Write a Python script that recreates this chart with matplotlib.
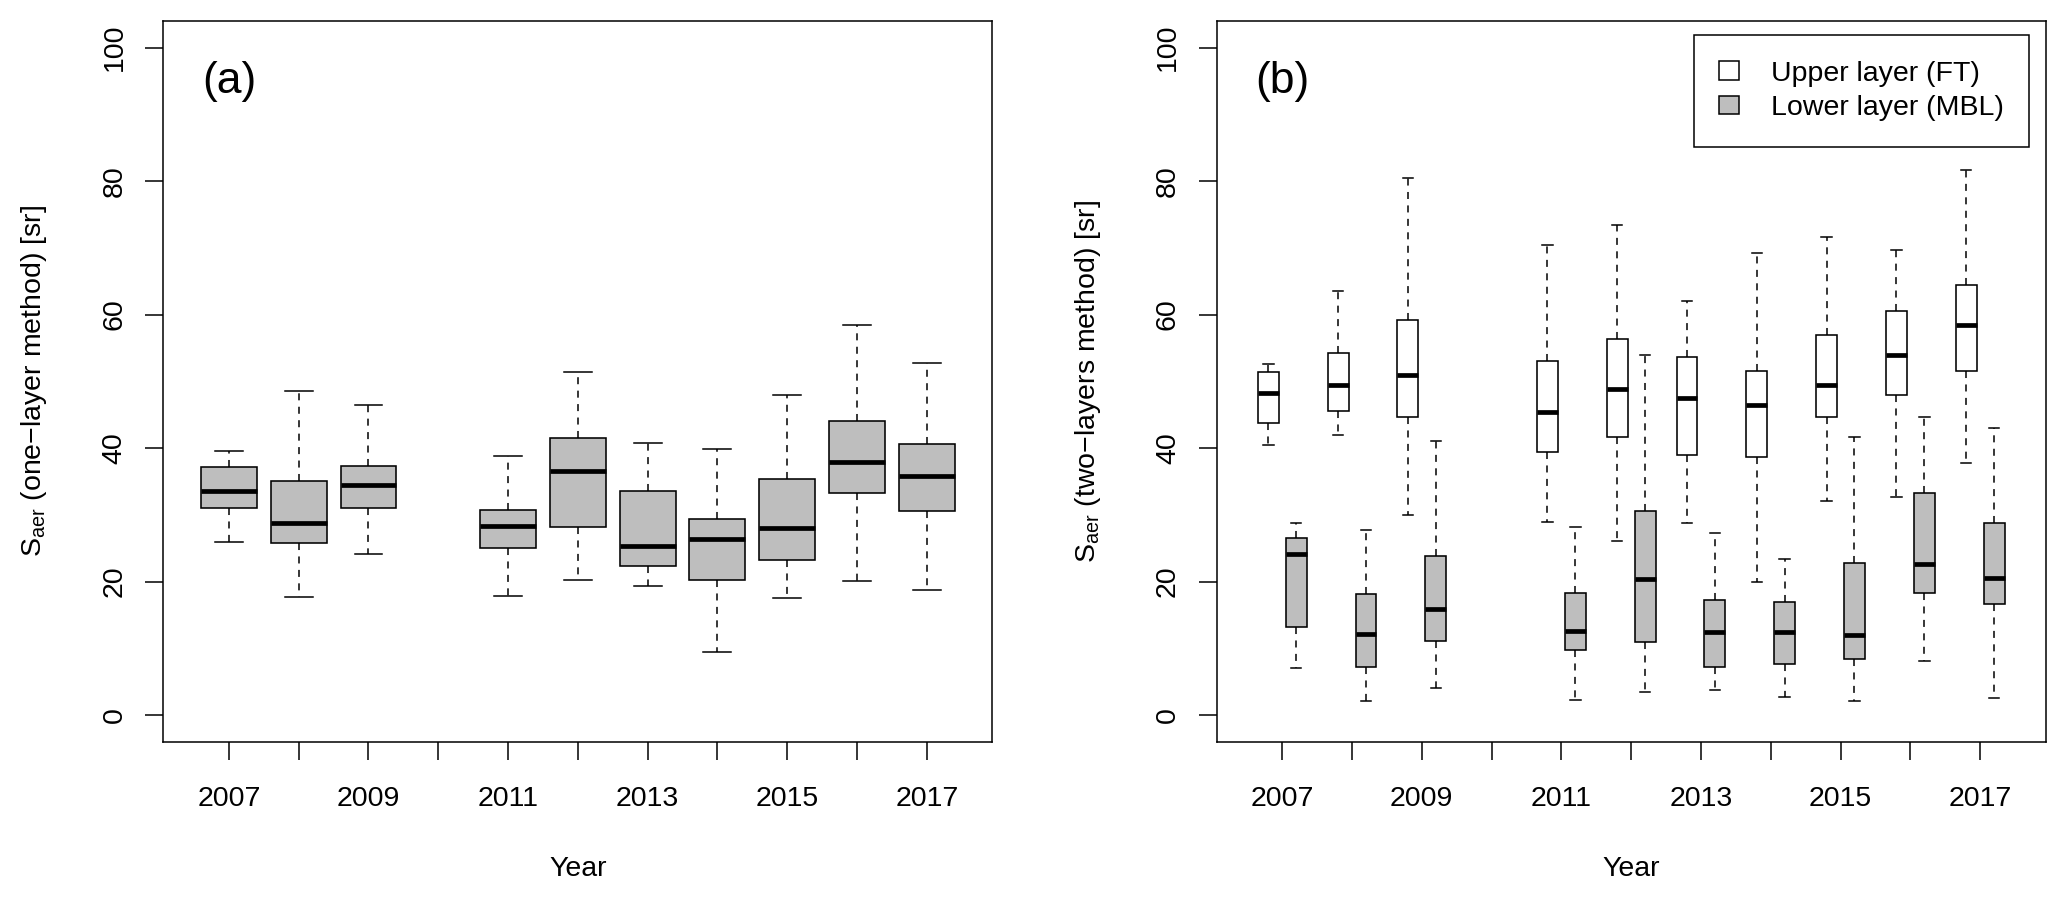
import matplotlib
matplotlib.use('Agg')
import matplotlib.pyplot as plt
from matplotlib.patches import Patch

plt.rcParams['font.family'] = ['Liberation Sans', 'DejaVu Sans']
plt.rcParams['mathtext.fontset'] = 'custom'
plt.rcParams['mathtext.rm'] = 'Liberation Sans'
plt.rcParams['mathtext.it'] = 'Liberation Sans:italic'

all_years = list(range(2007, 2018))
years = [2007, 2008, 2009, 2011, 2012, 2013, 2014, 2015, 2016, 2017]

# (a) one-layer method
one_lo = [25.9, 17.7, 24.1, 17.8, 20.2, 19.4, 9.4, 17.6, 20.1, 18.7]
one_q1 = [31.0, 25.7, 31.0, 25.0, 28.1, 22.3, 20.3, 23.2, 33.2, 30.5]
one_med = [33.5, 28.7, 34.5, 28.3, 36.5, 25.3, 26.4, 28.0, 37.9, 35.8]
one_q3 = [37.1, 35.0, 37.3, 30.7, 41.5, 33.5, 29.3, 35.3, 44.0, 40.6]
one_hi = [39.5, 48.5, 46.4, 38.8, 51.4, 40.8, 39.9, 47.9, 58.4, 52.8]

# (b) two-layers method, upper layer (FT)
ft_lo = [40.4, 42.0, 29.9, 28.9, 26.1, 28.7, 20.0, 32.0, 32.6, 37.8]
ft_q1 = [43.7, 45.6, 44.6, 39.4, 41.7, 39.0, 38.7, 44.6, 48.0, 51.5]
ft_med = [48.3, 49.5, 50.9, 45.4, 48.9, 47.5, 46.5, 49.4, 54.0, 58.5]
ft_q3 = [51.4, 54.3, 59.2, 53.0, 56.4, 53.6, 51.5, 57.0, 60.5, 64.5]
ft_hi = [52.6, 63.6, 80.4, 70.4, 73.4, 62.0, 69.3, 71.6, 69.7, 81.6]

# (b) two-layers method, lower layer (MBL)
mbl_lo = [7.0, 2.1, 4.0, 2.3, 3.5, 3.7, 2.7, 2.1, 8.1, 2.5]
mbl_q1 = [13.2, 7.2, 11.1, 9.8, 11.0, 7.2, 7.7, 8.4, 18.3, 16.6]
mbl_med = [24.1, 12.1, 15.9, 12.6, 20.4, 12.5, 12.4, 12.0, 22.6, 20.6]
mbl_q3 = [26.5, 18.1, 23.8, 18.3, 30.6, 17.2, 17.0, 22.8, 33.2, 28.8]
mbl_hi = [28.8, 27.7, 41.1, 28.1, 54.0, 27.3, 23.3, 41.6, 44.6, 43.0]

GRAY = '#BEBEBE'
FS = 20.5
LW = 1.1


def draw_boxes(ax, pos, lo, q1, med, q3, hi, color, width):
    stats = [dict(whislo=a, q1=b, med=c, q3=d, whishi=e)
             for a, b, c, d, e in zip(lo, q1, med, q3, hi)]
    ax.bxp(stats, positions=pos, widths=width, capwidths=width / 2,
           patch_artist=True, showfliers=False, manage_ticks=False,
           boxprops=dict(facecolor=color, edgecolor='black', linewidth=1.15),
           whiskerprops=dict(color='black', linewidth=LW, linestyle=(0, (4.6, 4.2))),
           capprops=dict(color='black', linewidth=LW),
           medianprops=dict(color='black', linewidth=3.4, solid_capstyle='butt'))


def setup(ax, ylabel, tag):
    ax.set_xlim(0.06, 11.94)
    ax.set_ylim(-4, 104)
    ax.set_xticks(range(1, len(all_years) + 1),
                  [str(y) if y % 2 else '' for y in all_years])
    ax.set_yticks(range(0, 101, 20))
    ax.tick_params(direction='out', length=13.2, width=LW, labelsize=FS)
    ax.tick_params(axis='x', pad=19)
    ax.tick_params(axis='y', pad=12.5, labelrotation=90)
    for lab in ax.get_yticklabels():
        lab.set_va('center')
    for sp in ax.spines.values():
        sp.set_linewidth(LW)
    ax.set_ylabel(ylabel, fontsize=FS, va='center')
    ax.yaxis.set_label_coords(-0.1554, 0.5)
    ax.set_xlabel('Year', fontsize=FS, va='center')
    ax.xaxis.set_label_coords(0.5, -0.1766)
    ax.text(1, 95, tag, fontsize=32, ha='center', va='center')


fig = plt.figure(figsize=(20.67, 8.99), dpi=100)
ax1 = fig.add_axes([0.0790, 0.1750, 0.4011, 0.8017])
ax2 = fig.add_axes([0.5886, 0.1750, 0.4011, 0.8017])

pos = [y - 2006 for y in years]
draw_boxes(ax1, pos, one_lo, one_q1, one_med, one_q3, one_hi, GRAY, 0.8)
setup(ax1, 'S$_{\\mathrm{aer}}$ (one\u2212layer method) [sr]', '(a)')

draw_boxes(ax2, [p - 0.2 for p in pos], ft_lo, ft_q1, ft_med, ft_q3, ft_hi, 'white', 0.3)
draw_boxes(ax2, [p + 0.2 for p in pos], mbl_lo, mbl_q1, mbl_med, mbl_q3, mbl_hi, GRAY, 0.3)
setup(ax2, 'S$_{\\mathrm{aer}}$ (two\u2212layers method) [sr]', '(b)')

handles = [Patch(facecolor='white', edgecolor='black', linewidth=LW),
           Patch(facecolor=GRAY, edgecolor='black', linewidth=LW)]
leg = ax2.legend(handles, ['Upper layer (FT)', 'Lower layer (MBL)'],
                 loc='upper right', bbox_to_anchor=(0.9799, 0.9806), borderaxespad=0,
                 fontsize=FS, fancybox=False, edgecolor='black', framealpha=1,
                 borderpad=0.9, labelspacing=0.3, handlelength=0.7,
                 handleheight=0.6, handletextpad=1.1)
leg.get_frame().set_linewidth(LW)

fig.savefig('out.png', dpi=100)
